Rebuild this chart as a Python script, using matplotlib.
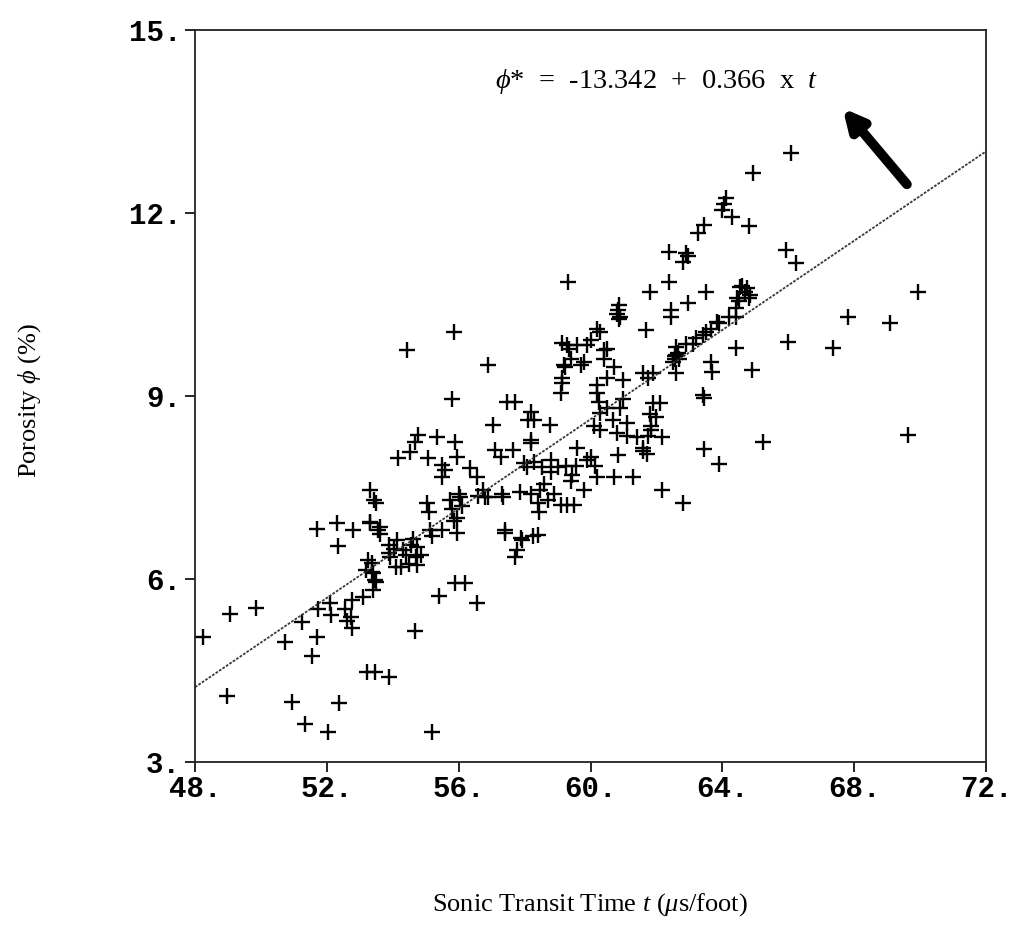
import matplotlib
matplotlib.use("Agg")
import matplotlib.pyplot as plt
import numpy as np

# ---- data ----
transit_time = [
    48.24, 49.06, 49.85, 48.97, 50.73, 51.25, 51.74, 51.71, 51.55, 50.95, 51.34, 52.04, 52.37,
    52.10, 52.13, 52.56, 52.62, 52.77, 52.77, 52.72, 53.10, 53.41, 53.26, 53.38, 53.47, 53.22,
    53.47, 53.90, 51.70, 52.30, 52.34, 52.80, 53.30, 53.55, 53.90,
    55.20, 54.68, 55.41, 55.90, 56.20, 56.57,
    54.43, 55.87, 56.90, 55.81, 57.48, 57.70, 58.20, 58.10, 58.30, 58.78, 57.05, 57.10, 57.27,
    57.66, 58.18, 58.08, 57.87, 58.20, 57.42, 57.93, 57.72, 58.25, 58.42, 57.78,
    54.77, 54.68, 54.53, 54.17, 55.35, 55.08, 55.90, 55.96, 55.50, 55.60, 55.50, 56.35, 56.57,
    56.75, 56.60, 56.90, 57.36, 56.80, 57.30,
    53.32, 53.42, 53.50, 53.32, 53.62, 53.60,
    55.05, 55.10, 55.75, 56.00, 55.80, 55.85, 55.96, 55.50, 55.14, 55.20,
    54.13, 54.30, 53.90, 54.60, 54.74, 54.70, 53.92, 54.10, 54.25, 54.75, 53.37, 53.40, 53.50,
    53.20, 54.40, 54.50, 54.05, 54.85, 54.55,
    58.18, 57.97, 58.30, 58.54, 58.80, 58.80, 59.00, 59.25, 59.60, 59.55, 59.45, 60.00, 60.15,
    60.20, 60.70, 60.82, 61.30, 62.18, 62.80, 59.80, 58.48, 58.42, 58.45, 59.10, 59.30, 59.50,
    58.90, 57.42, 57.90,
    59.30, 59.60, 59.90, 59.40, 59.70, 59.24, 59.15, 59.15, 59.10, 60.00, 60.40, 60.20, 60.70,
    60.20, 60.20, 60.25, 60.50, 61.00, 61.00, 60.90, 60.30, 60.50, 60.10, 60.30, 60.67, 60.80,
    61.10, 61.10, 61.40, 61.60, 61.75, 61.85, 62.18, 61.60, 61.75, 61.90, 61.90, 62.10, 62.60,
    62.70, 62.50, 62.60,
    66.07, 64.92, 64.10, 64.05, 64.00, 64.30, 64.80, 63.43, 63.25, 62.37, 62.90, 62.80, 65.92,
    66.22, 62.37, 61.82, 63.50, 62.95, 60.85, 60.80, 60.85, 61.67, 62.43, 64.55, 64.75, 64.85,
    64.45, 64.40, 64.40, 63.85, 63.65, 63.40, 63.10, 62.90, 62.60, 62.55, 64.40, 66.00, 63.65,
    63.70, 64.90, 60.40,
    63.43, 63.40, 65.22, 63.43, 63.90, 61.85, 61.60, 61.70, 61.80, 62.00,
    69.93, 67.80, 69.10, 67.35, 69.63,
    59.33,
    59.15, 59.35, 59.80, 59.20, 60.30, 60.50, 60.82, 60.90, 62.43,
    62.65, 62.55, 63.20, 63.50, 63.90, 64.20, 64.60, 64.70, 64.80, 64.50,
    59.40, 59.90, 58.70, 58.60, 56.10, 55.95, 56.05, 62.95,
]
porosity = [
    5.05, 5.43, 5.52, 4.08, 4.97, 5.30, 5.51, 5.05, 4.74, 3.98, 3.62, 3.49, 3.97,
    5.61, 5.41, 5.51, 5.31, 5.66, 5.20, 5.38, 5.70, 5.82, 6.31, 6.11, 5.98, 4.48,
    4.48, 4.40, 6.82, 6.92, 6.54, 6.80, 6.92, 6.80, 6.43,
    3.49, 5.15, 5.72, 5.93, 5.93, 5.60,
    9.75, 10.05, 9.50, 8.95, 8.90, 8.90, 8.74, 8.60, 8.60, 8.52, 8.52, 8.11, 8.00,
    8.11, 8.23, 7.84, 7.43, 7.40, 6.75, 6.64, 6.36, 6.70, 6.72, 6.48,
    8.36, 8.25, 8.08, 7.98, 8.33, 7.98, 8.25, 8.00, 7.87, 7.79, 7.67, 7.82, 7.67,
    7.46, 7.36, 7.35, 7.34, 7.34, 7.40,
    7.46, 7.30, 7.25, 6.93, 6.85, 6.73,
    7.25, 7.10, 7.30, 7.40, 7.15, 6.95, 6.75, 6.80, 6.80, 6.70,
    6.64, 6.48, 6.55, 6.65, 6.52, 6.36, 6.36, 6.20, 6.20, 6.23, 6.26, 6.10, 5.95,
    6.15, 6.40, 6.25, 6.50, 6.40, 6.55,
    8.28, 7.90, 7.92, 7.84, 7.95, 7.75, 7.84, 7.85, 8.15, 7.85, 7.70, 8.00, 7.85,
    7.67, 7.67, 8.03, 7.67, 7.46, 7.25, 7.46, 7.46, 7.25, 7.10, 7.21, 7.21, 7.21,
    7.40, 6.80, 6.67,
    9.84, 9.84, 9.84, 9.60, 9.50, 9.48, 9.30, 9.21, 9.05, 9.92, 9.60, 10.10, 9.48,
    9.18, 9.05, 8.90, 9.30, 9.26, 8.95, 8.80, 8.72, 8.80, 8.50, 8.45, 8.60, 8.40,
    8.55, 8.35, 8.33, 8.15, 8.35, 8.50, 8.33, 9.38, 9.30, 9.38, 8.89, 8.89, 9.67,
    9.60, 9.55, 9.38,
    12.98, 12.66, 12.25, 12.15, 12.05, 11.93, 11.79, 11.80, 11.67, 11.36, 11.34, 11.20, 11.39,
    11.18, 10.87, 10.70, 10.70, 10.52, 10.49, 10.35, 10.26, 10.08, 10.30, 10.79, 10.77, 10.65,
    10.60, 10.45, 10.30, 10.21, 10.10, 10.00, 9.85, 9.85, 9.80, 9.60, 9.79, 9.89, 9.56,
    9.40, 9.43, 9.75,
    8.97, 9.02, 8.25, 8.13, 7.88, 8.45, 8.10, 8.05, 8.70, 8.65,
    10.70, 10.30, 10.20, 9.79, 8.36,
    10.87,
    9.87, 9.77, 9.55, 9.50, 10.05, 9.77, 10.41, 10.30, 10.41,
    9.70, 9.65, 9.95, 10.05, 10.20, 10.30, 10.80, 10.70, 10.60, 10.55,
    7.60, 7.95, 7.30, 7.55, 7.20, 7.00, 7.35, 11.30,
]
intercept = -13.342
slope = 0.366

x_ticks = [48, 52, 56, 60, 64, 68, 72]
x_tick_labels = ["48.", "52.", "56.", "60.", "64.", "68.", "72."]
y_ticks = [3, 6, 9, 12, 15]
y_tick_labels = ["3.", "6.", "9.", "12.", "15."]

# ---- figure ----
W, H = 1013, 938
fig = plt.figure(figsize=(W / 100, H / 100), dpi=100)
ax = fig.add_axes([195 / W, 1 - 762 / H, (986 - 195) / W, (762 - 30) / H])

ax.plot(transit_time, porosity, linestyle="none", marker="+", color="black",
        markersize=11, markeredgewidth=1.7)

t_line = np.array([x_ticks[0], x_ticks[-1]], dtype=float)
ax.plot(t_line, intercept + slope * t_line, color="#3a3a3a", linewidth=1.3,
        linestyle=(0, (1.5, 0.8)))

ax.set_xlim(48, 72)
ax.set_ylim(3, 15)
ax.set_xticks(x_ticks)
ax.set_xticklabels(x_tick_labels)
ax.set_yticks(y_ticks)
ax.set_yticklabels(y_tick_labels)
for lab in ax.get_xticklabels() + ax.get_yticklabels():
    lab.set_family("Liberation Mono")
    lab.set_fontweight("bold")
    lab.set_fontsize(21)
ax.tick_params(axis="both", direction="out", length=7, width=1.2, color="black")
ax.tick_params(axis="x", pad=2)
ax.tick_params(axis="y", pad=3)
for sp in ax.spines.values():
    sp.set_linewidth(1.3)
    sp.set_color("#222222")

plt.rcParams["mathtext.fontset"] = "custom"
plt.rcParams["mathtext.rm"] = "Liberation Serif"
plt.rcParams["mathtext.it"] = "Liberation Serif:italic"

ax.text(57.1, 14.15, r"$\phi$*  =  -13.342  +  0.366  x  $t$", family="Liberation Serif",
        fontsize=20.5, ha="left", va="center", color="black")
ax.annotate("", xy=(67.65, 13.72), xytext=(69.6, 12.47),
            arrowprops=dict(arrowstyle="-|>,head_length=1.2,head_width=0.6",
                            lw=7, color="black", shrinkA=0, shrinkB=0))

fig.text(590 / W, 1 - 905 / H, r"Sonic Transit Time $t$ ($\mu$s/foot)",
         family="Liberation Serif", fontsize=19, ha="center", va="center")
fig.text(30 / W, 1 - 400 / H, r"Porosity $\phi$ (%)", family="Liberation Serif",
         fontsize=19, ha="center", va="center", rotation=90)

fig.savefig("out.png", dpi=100)
